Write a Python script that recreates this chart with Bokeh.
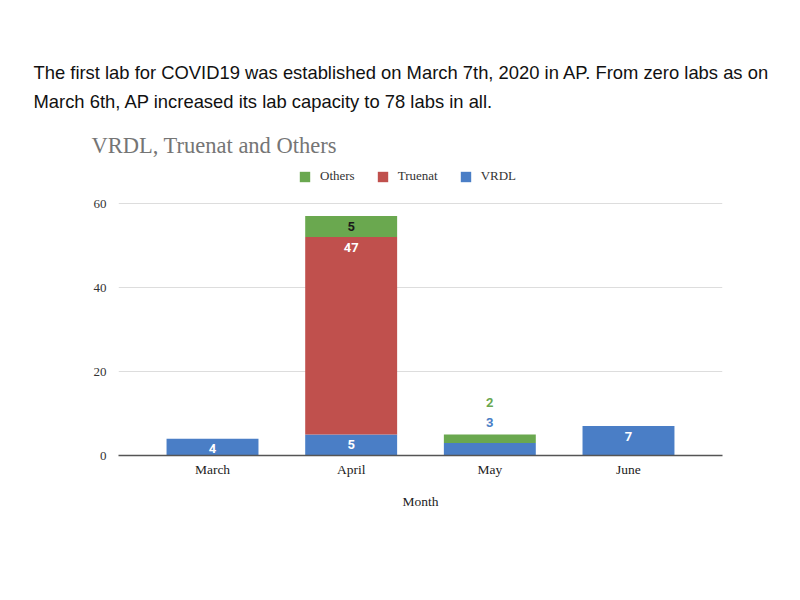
from bokeh.plotting import figure
from bokeh.layouts import column
from bokeh.models import (ColumnDataSource, FactorRange, Range1d, Label, Legend,
                          LegendItem, FixedTicker)
from bokeh.core.properties import value
from bokeh.embed import file_html
from bokeh.resources import INLINE

months = ["March", "April", "May", "June"]
vrdl = [4, 5, 3, 7]
truenat = [0, 47, 0, 0]
others = [0, 5, 2, 0]
series_names = ["VRDL", "Truenat", "Others"]
series_colors = ["#4a7ec6", "#c0504d", "#6aa84f"]
inside_text_colors = ["#ffffff", "#ffffff", "#1a1a1a"]
y_ticks = [0, 20, 40, 60]

intro_line1 = "The first lab for COVID19 was established on March 7th, 2020 in AP. From zero labs as on"
intro_line2 = "March 6th, AP increased its lab capacity to 78 labs in all."
chart_title = "VRDL, Truenat and Others"
x_title = "Month"

SERIF = "Liberation Serif"
SANS = "Liberation Sans"

W = 784
TOP_H = 165
CHART_H = 419

# ---------- top text block ----------
top = figure(width=W, height=TOP_H, output_backend="svg", toolbar_location=None,
             x_range=Range1d(0, W), y_range=Range1d(TOP_H, 0),
             x_axis_type=None, y_axis_type=None, min_border=0)
top.frame_align = False
top.outline_line_color = None
top.grid.visible = False
top.add_layout(Label(x=33, y=72, text=intro_line1, text_font=SANS,
                     text_font_size="18.4px", text_color="#111111",
                     text_baseline="middle"))
top.add_layout(Label(x=33, y=101, text=intro_line2, text_font=SANS,
                     text_font_size="18.4px", text_color="#111111",
                     text_baseline="middle"))
top.add_layout(Label(x=91, y=145, text=chart_title, text_font=SERIF,
                     text_font_size="22.5px", text_color="#757575",
                     text_baseline="middle"))

# ---------- chart ----------
p = figure(width=W, height=CHART_H, output_backend="svg", toolbar_location=None,
           x_range=FactorRange(factors=months, range_padding=0.178,
                               range_padding_units="absolute"),
           y_range=Range1d(0, (455 - TOP_H) / 4.2),
           min_border_left=118, min_border_right=62,
           min_border_top=0, min_border_bottom=CHART_H - (455 - TOP_H))
p.frame_align = False
p.outline_line_color = None

src = ColumnDataSource(dict(month=months, VRDL=vrdl, Truenat=truenat, Others=others))
rs = p.vbar_stack(series_names, x="month", width=0.663, source=src,
                  color=series_colors, line_color=None)

# segment value labels
lx, ly, lt, lc = [], [], [], []
ox, oy, ot, oc, ooff = [], [], [], [], []
for i, m in enumerate(months):
    vals = [vrdl[i], truenat[i], others[i]]
    total = sum(vals)
    cum = 0
    n_out = 0
    for k, v in enumerate(vals):
        cum += v
        if v == 0:
            continue
        if v >= 4:
            lx.append(m); ly.append(cum); lt.append(str(v)); lc.append(inside_text_colors[k])
        else:
            ox.append(m); oy.append(total); ot.append(str(v)); oc.append(series_colors[k])
            ooff.append(-12 - 20 * n_out)
            n_out += 1

p.text(x="month", y="y", text="t", color="c",
       source=ColumnDataSource(dict(month=lx, y=ly, t=lt, c=lc)),
       y_offset=10, text_align="center", text_baseline="middle",
       text_font=value("Roboto"), text_font_size="13px", text_font_style="bold")
p.text(x="month", y="y", text="t", color="c", y_offset="off",
       source=ColumnDataSource(dict(month=ox, y=oy, t=ot, c=oc, off=ooff)),
       text_align="center", text_baseline="middle",
       text_font=value("Roboto"), text_font_size="13px", text_font_style="bold")

# axes
p.yaxis.ticker = FixedTicker(ticks=y_ticks)
p.yaxis.axis_line_color = None
p.yaxis.major_tick_line_color = None
p.yaxis.major_tick_out = 0
p.yaxis.minor_tick_line_color = None
p.yaxis.major_label_standoff = 12
p.yaxis.major_label_text_font = SERIF
p.yaxis.major_label_text_font_size = "13px"
p.yaxis.major_label_text_color = "#333333"

p.xaxis.axis_line_color = "#555555"
p.xaxis.axis_line_width = 1.5
p.xaxis.major_tick_line_color = None
p.xaxis.major_tick_out = 0
p.xaxis.minor_tick_line_color = None
p.xaxis.major_label_standoff = 6
p.xaxis.major_label_text_font = SERIF
p.xaxis.major_label_text_font_size = "13.5px"
p.xaxis.major_label_text_color = "#222222"
p.xaxis.axis_label = x_title
p.xaxis.axis_label_text_font = SERIF
p.xaxis.axis_label_text_font_size = "13.5px"
p.xaxis.axis_label_text_font_style = "normal"
p.xaxis.axis_label_text_color = "#222222"
p.xaxis.axis_label_standoff = 14

p.xgrid.grid_line_color = None
p.ygrid.grid_line_color = "#dddddd"
p.ygrid.ticker = FixedTicker(ticks=y_ticks)

# legend
legend = Legend(items=[LegendItem(label=series_names[2], renderers=[rs[2]]),
                       LegendItem(label=series_names[1], renderers=[rs[1]]),
                       LegendItem(label=series_names[0], renderers=[rs[0]])],
                orientation="horizontal", location=(180, 271),
                padding=0, margin=0, spacing=21, label_standoff=9,
                glyph_width=13, glyph_height=13, label_height=13,
                border_line_color=None, background_fill_alpha=0,
                label_text_font=SERIF, label_text_font_size="13px",
                label_text_color="#333333")
p.add_layout(legend)

layout = column(top, p, spacing=0)
open("out.html", "w").write(file_html(layout, INLINE))
